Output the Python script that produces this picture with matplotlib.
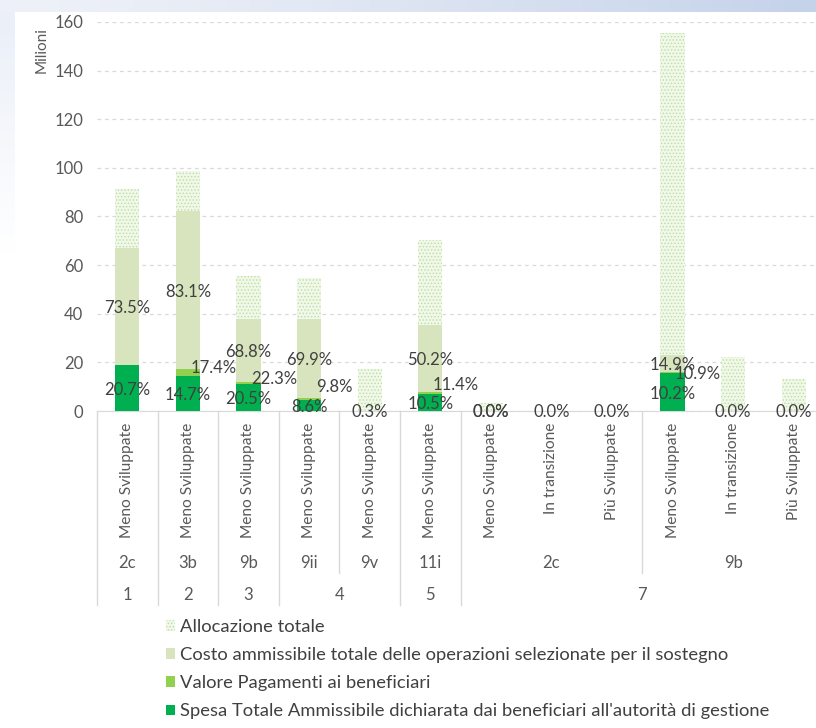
import numpy as np
import matplotlib
matplotlib.use("Agg")
import matplotlib.pyplot as plt

# Dati (milioni di euro)
regioni = ['Meno Sviluppate', 'Meno Sviluppate', 'Meno Sviluppate', 'Meno Sviluppate',
           'Meno Sviluppate', 'Meno Sviluppate', 'Meno Sviluppate', 'In transizione',
           'Più Sviluppate', 'Meno Sviluppate', 'In transizione', 'Più Sviluppate']
priorita = ['2c', '3b', '9b', '9ii', '9v', '11i', '2c', '2c', '2c', '9b', '9b', '9b']
asse = ['1', '2', '3', '4', '4', '5', '7', '7', '7', '7', '7', '7']

allocazione = [91.2, 98.8, 55.6, 54.9, 17.4, 70.4, 3.4, 0.0, 0.0, 155.3, 22.4, 13.3]
costo = [67.2, 82.3, 38.0, 38.0, 0.05, 35.3, 0.0, 0.0, 0.0, 22.9, 0.0, 0.0]
pagamenti = [18.6, 17.2, 11.9, 5.2, 0.0, 7.8, 0.0, 0.0, 0.0, 16.0, 0.0, 0.0]
spesa = [18.8, 14.4, 11.0, 4.4, 0.0, 6.9, 0.0, 0.0, 0.0, 15.5, 0.0, 0.0]

costo_pct = ['73.5%', '83.1%', '68.8%', '69.9%', '0.3%', '50.2%', '0.0%', '0.0%', '0.0%', '14.9%', '0.0%', '0.0%']
pag_pct = ['', '17.4%', '22.3%', '9.8%', '', '11.4%', '', '', '', '10.9%', '', '']
spesa_pct = ['20.7%', '14.7%', '20.5%', '8.6%', '', '10.5%', '0.0%', '', '', '10.2%', '', '']

legenda = ['Allocazione totale',
           'Costo ammissibile totale delle operazioni selezionate per il sostegno',
           'Valore Pagamenti ai beneficiari',
           "Spesa Totale Ammissibile dichiarata dai beneficiari all'autorità di gestione"]

# spostamenti manuali delle etichette "pagamenti" (come in Excel)
pag_dy = [0, 0.3, 1.1, 4.5, 0, 2.8, 0, 0, 0, -0.9, 0, 0]

plt.rcParams['font.family'] = ['Lato', 'DejaVu Sans']
plt.rcParams['hatch.linewidth'] = 0.6
grigio = '#595959'
fs = 12

W, H = 816, 728
fig = plt.figure(figsize=(W / 100, H / 100), dpi=100)

# sfondo della slide
bg = fig.add_axes([0, 0, 1, 1])
img = np.ones((H, W, 3))
t = np.linspace(0, 1, W)[:, None]
c0 = np.array([238, 241, 248]) / 255
c1 = np.array([196, 210, 234]) / 255
img[:12, :, :] = (c0 + (c1 - c0) * t ** 1.3)[None, :, :]
f = np.clip(1 - (np.arange(H - 12) / 240.0), 0, 1)[:, None]
cl = np.array([234, 239, 248]) / 255
img[12:, :15, :] = (1 + (cl - 1) * f)[:, None, :]
bg.imshow(img, aspect='auto', extent=[0, W, H, 0])
bg.set_xlim(0, W)
bg.set_ylim(H, 0)
bg.axis('off')

# grafico
ax = fig.add_axes([97 / W, 1 - 411 / H, (824 - 97) / W, 389 / H])
ax.set_facecolor('none')
x = np.arange(len(regioni))
w = 0.4

b1 = ax.bar(x, allocazione, w, color='#f1f8ea', edgecolor='#b9df9f', hatch='.....', linewidth=0, zorder=2)
b2 = ax.bar(x, costo, w, color='#d7e4bd', linewidth=0, zorder=3)
b3 = ax.bar(x, pagamenti, w, color='#92d050', linewidth=0, zorder=4)
b4 = ax.bar(x, spesa, w, color='#00b050', linewidth=0, zorder=5)

ax.set_xlim(-0.5, len(regioni) - 0.5)
ax.set_ylim(0, 160)
ax.set_yticks(np.arange(0, 161, 20))
ax.set_xticks([])
ax.tick_params(axis='y', length=0, labelsize=fs, labelcolor=grigio, pad=10)
ax.grid(axis='y', color='#d9d9d9', linestyle=(0, (3, 3)), linewidth=0.9, zorder=0)
ax.set_axisbelow(True)
for s in ['top', 'right', 'left']:
    ax.spines[s].set_visible(False)
ax.spines['bottom'].set_color('#d9d9d9')

fig.text(42 / W, 1 - 50 / H, 'Milioni', rotation=90, ha='center', va='center',
         fontsize=11, color=grigio)

# etichette percentuali
lab = dict(fontsize=fs, color='#404040', va='center', zorder=6)
for i in x:
    if costo_pct[i]:
        ax.text(i, (pagamenti[i] + costo[i]) / 2 - 0.6, costo_pct[i], ha='center', **lab)
    if spesa_pct[i]:
        ax.text(i, spesa[i] / 2 - 0.6, spesa_pct[i], ha='center', **lab)
    if pag_pct[i]:
        ax.text(i + 0.42, pagamenti[i] + pag_dy[i], pag_pct[i], ha='center', **lab)

# asse categorie a più livelli
tr = ax.get_xaxis_transform()
for i in x:
    ax.text(i, -0.031, regioni[i], rotation=90, ha='center', va='top',
            fontsize=11.2, color=grigio, transform=tr)


def gruppi(chiavi):
    out = []
    start = 0
    for i in range(1, len(chiavi) + 1):
        if i == len(chiavi) or chiavi[i] != chiavi[start]:
            out.append((start, i - 1))
            start = i
    return out


liv2 = gruppi(list(zip(asse, priorita)))
liv1 = gruppi(asse)
for a, b in liv2:
    ax.text((a + b) / 2, -0.39, priorita[a], ha='center', va='center',
            fontsize=fs, color=grigio, transform=tr)
for a, b in liv1:
    ax.text((a + b) / 2, -0.473, asse[a], ha='center', va='center',
            fontsize=fs, color=grigio, transform=tr)

bordi1 = {a - 0.5 for a, b in liv1} | {b + 0.5 for a, b in liv1}
bordi2 = ({a - 0.5 for a, b in liv2} | {b + 0.5 for a, b in liv2}) - bordi1
for xb in bordi1:
    ax.plot([xb, xb], [0, -0.499], color='#d9d9d9', lw=1, transform=tr, clip_on=False)
for xb in bordi2:
    ax.plot([xb, xb], [0, -0.416], color='#d9d9d9', lw=1, transform=tr, clip_on=False)

# legenda
fig.legend([b1, b2, b3, b4], legenda, loc='upper left',
           bbox_to_anchor=(166 / W, 1 - 619 / H), frameon=False,
           fontsize=13.2, labelcolor='#404040', handlelength=0.5, handleheight=0.5,
           handletextpad=0.25, labelspacing=0.66, borderpad=0, borderaxespad=0)

fig.savefig('out.png', dpi=100)
